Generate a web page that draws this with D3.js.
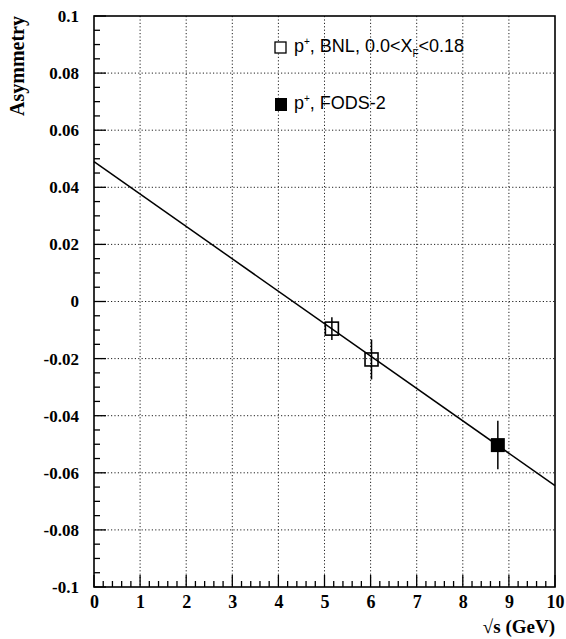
<!DOCTYPE html>
<html>
<head>
<meta charset="utf-8">
<script src="https://cdnjs.cloudflare.com/ajax/libs/d3/7.8.5/d3.min.js"></script>
<style>
  body { margin: 0; background: #fff; }
</style>
</head>
<body>
<script>
// data
const bnlX = [5.16, 6.02];
const bnlY = [-0.0095, -0.0203];
const bnlErr = [0.004, 0.007];
const fodsX = [8.76];
const fodsY = [-0.0503];
const fodsErr = [0.0085];
const fitX = [0, 10];
const fitY = [0.049, -0.0645];
const xTicks = [0, 1, 2, 3, 4, 5, 6, 7, 8, 9, 10];
const yTicks = [-0.1, -0.08, -0.06, -0.04, -0.02, 0, 0.02, 0.04, 0.06, 0.08, 0.1];
const yTickText = ["-0.1", "-0.08", "-0.06", "-0.04", "-0.02", "0", "0.02", "0.04", "0.06", "0.08", "0.1"];

const W = 566, H = 639;
const margin = {top: 16, right: 11, bottom: 52, left: 94};
const width = W - margin.left - margin.right,
      height = H - margin.top - margin.bottom;
const serif = '"Liberation Serif", "DejaVu Serif", serif';
const sans = '"Liberation Sans", Arial, sans-serif';

const svg = d3.select("body").append("svg").attr("width", W).attr("height", H);
const g = svg.append("g").attr("transform", "translate(" + margin.left + "," + margin.top + ")");

const x = d3.scaleLinear().domain([0, 10]).range([0, width]);
const y = d3.scaleLinear().domain([-0.1, 0.1]).range([height, 0]);

// dotted grid
g.selectAll(".gx").data(xTicks.slice(1, -1)).enter().append("line")
  .attr("x1", d => x(d)).attr("x2", d => x(d))
  .attr("y1", 0).attr("y2", height)
  .attr("stroke", "#222").attr("stroke-width", 1).attr("stroke-dasharray", "1.2,2.2");
g.selectAll(".gy").data(yTicks.slice(1, -1)).enter().append("line")
  .attr("x1", 0).attr("x2", width)
  .attr("y1", d => y(d)).attr("y2", d => y(d))
  .attr("stroke", "#222").attr("stroke-width", 1).attr("stroke-dasharray", "1.2,2.2");

// inward ticks, major + minor
g.selectAll(".mx").data(d3.range(0, 10.001, 0.2)).enter().append("line")
  .attr("x1", d => x(d)).attr("x2", d => x(d))
  .attr("y1", height).attr("y2", d => Math.abs(d - Math.round(d)) < 1e-6 ? height - 12 : height - 6)
  .attr("stroke", "#000").attr("stroke-width", 1.3);
g.selectAll(".my").data(d3.range(-0.1, 0.1001, 0.005)).enter().append("line")
  .attr("y1", d => y(d)).attr("y2", d => y(d))
  .attr("x1", 0).attr("x2", d => Math.abs(d * 50 - Math.round(d * 50)) < 1e-6 ? 12 : 6)
  .attr("stroke", "#000").attr("stroke-width", 1.3);

// axes (labels only)
const ax = g.append("g").attr("transform", "translate(0," + height + ")")
  .call(d3.axisBottom(x).tickValues(xTicks).tickSize(0).tickPadding(8).tickFormat(d3.format("d")));
ax.select(".domain").remove();
ax.selectAll("text").style("font-family", serif).style("font-weight", "bold").style("font-size", "18px").attr("fill", "#000");

const ay = g.append("g")
  .call(d3.axisLeft(y).tickValues(yTicks).tickSize(0).tickPadding(15).tickFormat((d, i) => yTickText[i]));
ay.select(".domain").remove();
ay.selectAll("text").style("font-family", serif).style("font-weight", "bold").style("font-size", "17px").attr("fill", "#000");

// frame
g.append("rect").attr("width", width).attr("height", height)
  .attr("fill", "none").attr("stroke", "#000").attr("stroke-width", 1.6);

// fit line
g.append("line")
  .attr("x1", x(fitX[0])).attr("y1", y(fitY[0]))
  .attr("x2", x(fitX[1])).attr("y2", y(fitY[1]))
  .attr("stroke", "#000").attr("stroke-width", 1.5);

// error bars
function errBars(xs, ys, es) {
  g.selectAll(null).data(xs).enter().append("line")
    .attr("x1", d => x(d)).attr("x2", d => x(d))
    .attr("y1", (d, i) => y(ys[i] + es[i])).attr("y2", (d, i) => y(ys[i] - es[i]))
    .attr("stroke", "#000").attr("stroke-width", 1.5);
}
errBars(bnlX, bnlY, bnlErr);
errBars(fodsX, fodsY, fodsErr);

const s = 13;
g.selectAll(".bnl").data(bnlX).enter().append("rect")
  .attr("x", d => x(d) - s / 2).attr("y", (d, i) => y(bnlY[i]) - s / 2)
  .attr("width", s).attr("height", s)
  .attr("fill", "none").attr("stroke", "#000").attr("stroke-width", 1.6);
g.selectAll(".fods").data(fodsX).enter().append("rect")
  .attr("x", d => x(d) - 7).attr("y", (d, i) => y(fodsY[i]) - 7)
  .attr("width", 14).attr("height", 14).attr("fill", "#000");

// legend
svg.append("rect").attr("x", 275).attr("y", 42).attr("width", 11).attr("height", 11)
  .attr("fill", "#fff").attr("stroke", "#000").attr("stroke-width", 1.3);
const t1 = svg.append("text").attr("x", 294).attr("y", 52)
  .style("font-family", sans).style("font-size", "18px");
t1.append("tspan").text("p");
t1.append("tspan").attr("dy", -7).style("font-size", "10px").text("+");
t1.append("tspan").attr("dy", 7).text(", BNL, 0.0<X");
t1.append("tspan").attr("dy", 5).style("font-size", "10px").text("F");
t1.append("tspan").attr("dy", -5).text("<0.18");

svg.append("rect").attr("x", 275).attr("y", 98).attr("width", 12).attr("height", 13).attr("fill", "#000");
const t2 = svg.append("text").attr("x", 294).attr("y", 109)
  .style("font-family", sans).style("font-size", "18px");
t2.append("tspan").text("p");
t2.append("tspan").attr("dy", -7).style("font-size", "10px").text("+");
t2.append("tspan").attr("dy", 7).text(", FODS-2");

// axis titles
svg.append("text")
  .attr("transform", "translate(24,66) rotate(-90)")
  .attr("text-anchor", "middle")
  .style("font-family", serif).style("font-weight", "bold").style("font-size", "20px")
  .text("Asymmetry");
svg.append("text")
  .attr("x", 555).attr("y", 633).attr("text-anchor", "end")
  .style("font-family", serif).style("font-weight", "bold").style("font-size", "19px")
  .text("√s (GeV)");
</script>
</body>
</html>
